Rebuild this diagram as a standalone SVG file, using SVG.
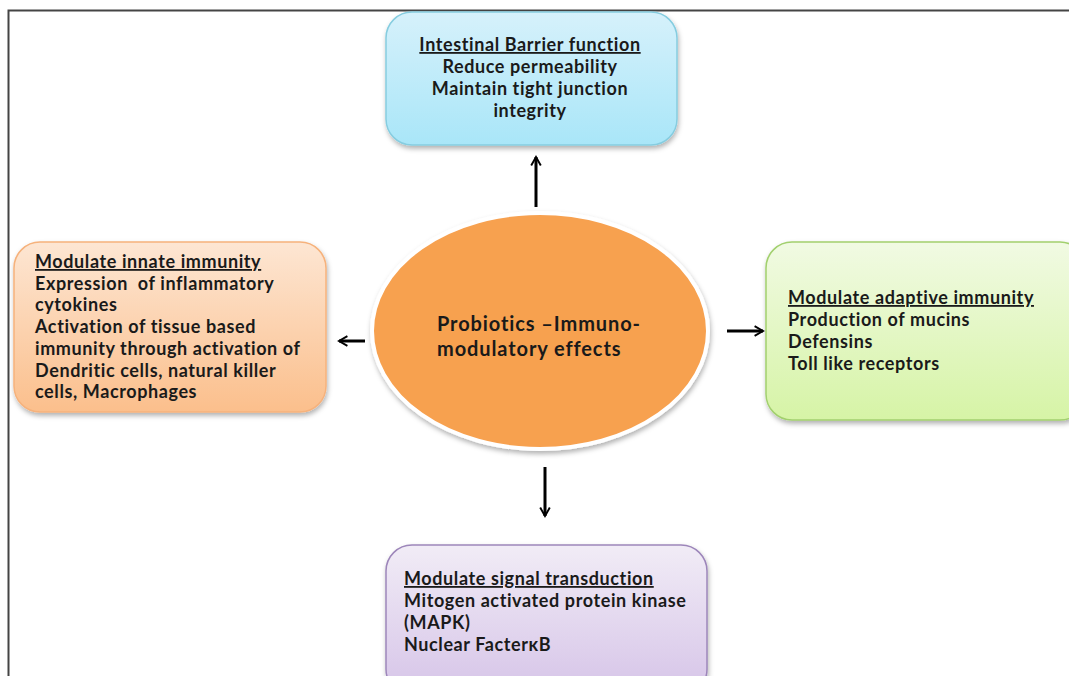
<svg xmlns="http://www.w3.org/2000/svg" width="1069" height="676" viewBox="0 0 1069 676">
<style>
text{font-family:Lato,"Open Sans","Liberation Sans",sans-serif;font-weight:bold;font-size:18px;letter-spacing:0.6px;fill:#1a1a1a}
.u{text-decoration:underline}
.c{text-anchor:middle}
.big{font-size:20px;letter-spacing:0.9px}
.conn line{stroke:#000;stroke-width:3;fill:none}
</style>
<defs>
<linearGradient id="gB" x1="0" y1="0" x2="0" y2="1"><stop offset="0" stop-color="#d6f1fb"/><stop offset="1" stop-color="#a9e6f8"/></linearGradient>
<linearGradient id="gO" x1="0" y1="0" x2="0" y2="1"><stop offset="0" stop-color="#fde6d3"/><stop offset="1" stop-color="#fbbf8c"/></linearGradient>
<linearGradient id="gG" x1="0" y1="0" x2="0" y2="1"><stop offset="0" stop-color="#f1fae3"/><stop offset="1" stop-color="#d6f4a6"/></linearGradient>
<linearGradient id="gP" x1="0" y1="0" x2="0" y2="1"><stop offset="0" stop-color="#f1ecf6"/><stop offset="1" stop-color="#d6c4e8"/></linearGradient>
<filter id="sh" x="-10%" y="-10%" width="120%" height="130%"><feDropShadow dx="1" dy="3" stdDeviation="2.5" flood-color="#000" flood-opacity="0.3"/></filter>
<marker id="ah" viewBox="0 0 10 10" refX="8" refY="5" markerWidth="4" markerHeight="4" orient="auto" markerUnits="strokeWidth"><path d="M1,1 L8,5 L1,9" fill="none" stroke="#000" stroke-width="1.6"/></marker>
</defs>
<rect width="1069" height="676" fill="#fff"/>
<path d="M8.5,676 V10.5 H1069" fill="none" stroke="#444" stroke-width="2"/>

<g id="barrier">
<rect x="386" y="12" width="291" height="133" rx="26" fill="url(#gB)" stroke="#86cde0" stroke-width="1.5" filter="url(#sh)"/>
<text class="c u" x="530" y="51">Intestinal Barrier function</text>
<text class="c" x="530" y="73">Reduce permeability</text>
<text class="c" x="530" y="95">Maintain tight junction</text>
<text class="c" x="530" y="117">integrity</text>
</g>

<g id="innate">
<rect x="14" y="242" width="312" height="170" rx="26" fill="url(#gO)" stroke="#f6b27c" stroke-width="1.5" filter="url(#sh)"/>
<text class="u" x="35" y="268">Modulate innate immunity</text>
<text x="35" y="290" xml:space="preserve">Expression  of inflammatory</text>
<text x="35" y="311">cytokines</text>
<text x="35" y="333">Activation of tissue based</text>
<text x="35" y="355">immunity through activation of</text>
<text x="35" y="377">Dendritic cells, natural killer</text>
<text x="35" y="398">cells, Macrophages</text>
</g>

<g id="adaptive">
<rect x="766" y="242" width="320" height="178" rx="26" fill="url(#gG)" stroke="#a2d06e" stroke-width="1.5" filter="url(#sh)"/>
<text class="u" x="788" y="304">Modulate adaptive immunity</text>
<text x="788" y="326">Production of mucins</text>
<text x="788" y="348">Defensins</text>
<text x="788" y="370">Toll like receptors</text>
</g>

<g id="signal">
<rect x="386" y="545" width="321" height="150" rx="26" fill="url(#gP)" stroke="#9d86ba" stroke-width="1.5" filter="url(#sh)"/>
<text class="u" x="404" y="585">Modulate signal transduction</text>
<text x="404" y="607">Mitogen activated protein kinase</text>
<text x="404" y="629">(MAPK)</text>
<text x="404" y="651">Nuclear Facterκ<tspan>B</tspan></text>
</g>

<g id="center">
<ellipse cx="540" cy="331" rx="168" ry="118" fill="#f7a150" stroke="#fff" stroke-width="4" filter="url(#sh)"/>
<text class="big" x="437" y="331">Probiotics –Immuno-</text>
<text class="big" x="437" y="356">modulatory effects</text>
</g>

<g class="conn" id="connectors">
<line x1="536" y1="207" x2="536" y2="157" marker-end="url(#ah)"/>
<line x1="365" y1="341" x2="339" y2="341" marker-end="url(#ah)"/>
<line x1="727" y1="331" x2="763" y2="331" marker-end="url(#ah)"/>
<line x1="545" y1="467" x2="545" y2="516" marker-end="url(#ah)"/>
</g>
</svg>
